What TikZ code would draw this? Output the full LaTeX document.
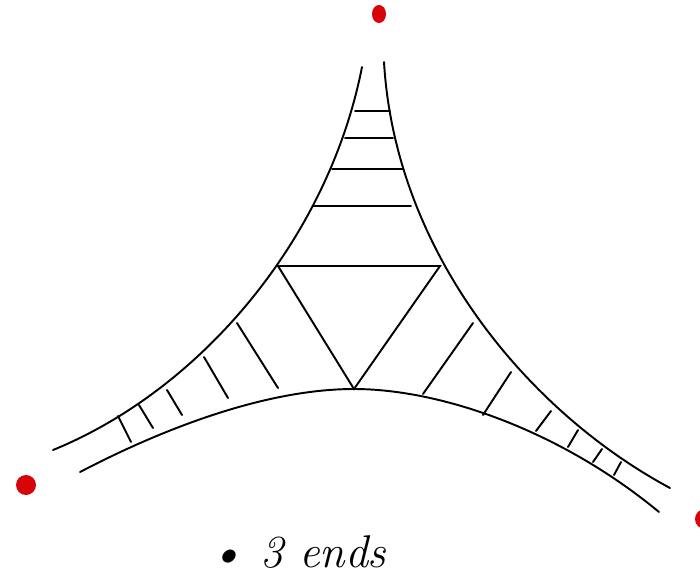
\documentclass[tikz,border=0pt]{standalone}
\usetikzlibrary{positioning}
\definecolor{enddot}{RGB}{215,5,10}
\tikzset{
    edge/.style={line width=1.1pt, line cap=round},
    rung/.style={line width=1.1pt, line cap=round},
    ideal/.style={fill=enddot}
}
\begin{document}
\begin{tikzpicture}[x=0.02cm, y=-0.02cm]
    \useasboundingbox (0,0) rectangle (700,576);

    % Boundary curves of the thickened tree
    \draw[edge] (362,67) .. controls (328,240) and (200,390) .. (53,450);
    \draw[edge] (384,62) .. controls (395,250) and (525,410) .. (670,488);
    \draw[edge] (80,472) .. controls (170,425) and (270,389) .. (354,389)
                         .. controls (440,389) and (560,430) .. (659,512);

    % Central triangle
    \draw[rung] (278,266) -- (440,266) -- (354,389) -- cycle;

    % Rungs in the upper end
    \foreach \y/\xa/\xb in {111/355/390, 138/345/393, 169/332/403, 206/313/411}
        \draw[rung] (\xa,\y) -- (\xb,\y);

    % Rungs in the left end
    \foreach \xa/\ya/\xb/\yb in {237/323/278/388, 204/357/228/398, 167/390/182/415, 139/405/153/428, 118/416/131/442}
        \draw[rung] (\xa,\ya) -- (\xb,\yb);

    % Rungs in the right end
    \foreach \xa/\ya/\xb/\yb in {473/323/423/394, 511/372/483/415, 551/411/536/431, 578/430/568/447, 602/449/593/462, 621/462/614/475}
        \draw[rung] (\xa,\ya) -- (\xb,\yb);

    % Ideal points
    \fill[ideal] (379,14) ellipse (7 and 9);
    \fill[ideal] (26,485) ellipse (10 and 10);
    \fill[ideal] (705,519) ellipse (10 and 10);

    % Note
    \node[scale=1.05, inner sep=1pt] (note) at (298,552) {\Huge\itshape \textbullet~3 ends};
\end{tikzpicture}
\end{document}
